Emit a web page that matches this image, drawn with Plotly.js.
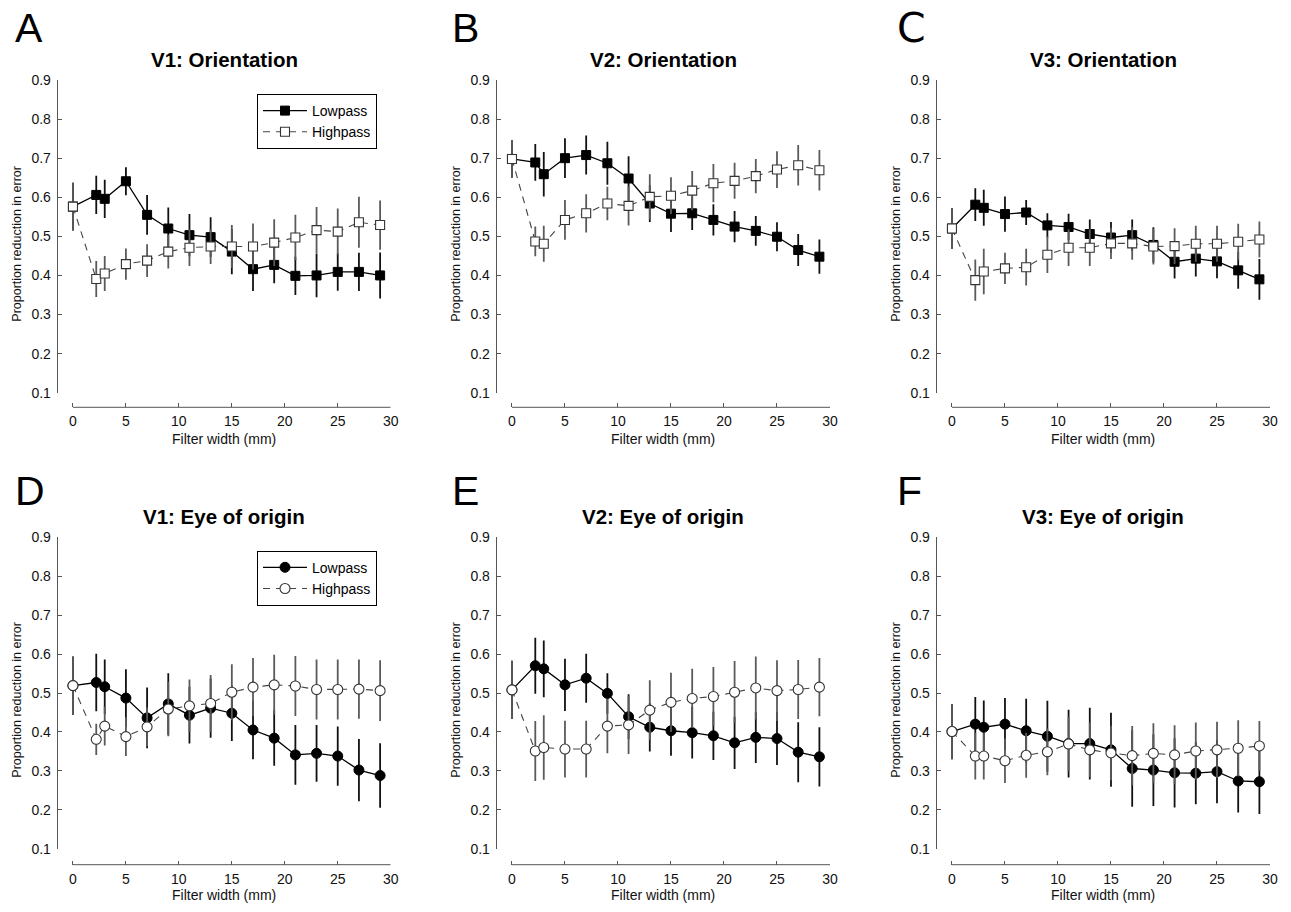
<!DOCTYPE html>
<html>
<head>
<meta charset="utf-8">
<script src="https://cdn.plot.ly/plotly-3.0.1.min.js"></script>
<style>html,body{margin:0;padding:0;background:#fff;}#chart{width:1291px;height:912px;}</style>
</head>
<body>
<div id="chart"></div>
<script>
// ---- data ----
const filterWidths = [0, 2.2, 3, 5, 7, 9, 11, 13, 15, 17, 19, 21, 23, 25, 27, 29];
const xTicks = [0, 5, 10, 15, 20, 25, 30];
const yTicks = [0.1, 0.2, 0.3, 0.4, 0.5, 0.6, 0.7, 0.8, 0.9];
const seriesNames = ['Lowpass', 'Highpass'];
const panelLetters = ['A', 'B', 'C', 'D', 'E', 'F'];
const panelTitles = ['V1: Orientation', 'V2: Orientation', 'V3: Orientation',
                     'V1: Eye of origin', 'V2: Eye of origin', 'V3: Eye of origin'];
const xTitle = 'Filter width (mm)';
const yTitle = 'Proportion reduction in error';

const v1OriLow     = [0.576,0.606,0.596,0.641,0.555,0.520,0.503,0.498,0.461,0.416,0.427,0.399,0.400,0.409,0.409,0.400];
const v1OriLowErr  = [0.061,0.049,0.049,0.036,0.051,0.054,0.054,0.051,0.058,0.056,0.047,0.049,0.056,0.048,0.049,0.059];
const v1OriHigh    = [0.576,0.391,0.405,0.429,0.438,0.461,0.471,0.474,0.474,0.474,0.484,0.497,0.516,0.512,0.536,0.529];
const v1OriHighErr = [0.061,0.046,0.045,0.040,0.042,0.043,0.047,0.045,0.055,0.059,0.060,0.058,0.059,0.059,0.065,0.063];

const v2OriLow     = [0.698,0.689,0.659,0.700,0.708,0.687,0.648,0.584,0.558,0.559,0.542,0.525,0.514,0.499,0.465,0.448];
const v2OriLowErr  = [0.048,0.047,0.057,0.051,0.050,0.055,0.057,0.047,0.047,0.043,0.040,0.040,0.038,0.037,0.041,0.044];
const v2OriHigh    = [0.698,0.487,0.481,0.542,0.559,0.584,0.578,0.601,0.604,0.617,0.636,0.642,0.654,0.671,0.682,0.669];
const v2OriHighErr = [0.048,0.038,0.046,0.051,0.049,0.043,0.050,0.058,0.047,0.050,0.049,0.046,0.044,0.047,0.052,0.052];

const v3OriLow     = [0.520,0.581,0.573,0.557,0.561,0.528,0.524,0.506,0.497,0.503,0.478,0.435,0.443,0.436,0.413,0.390];
const v3OriLowErr  = [0.052,0.042,0.046,0.045,0.032,0.031,0.034,0.037,0.040,0.040,0.045,0.043,0.046,0.043,0.047,0.052];
const v3OriHigh    = [0.520,0.388,0.410,0.418,0.421,0.453,0.471,0.471,0.482,0.482,0.474,0.475,0.481,0.481,0.486,0.492];
const v3OriHighErr = [0.052,0.053,0.058,0.040,0.047,0.047,0.047,0.047,0.040,0.042,0.046,0.046,0.046,0.046,0.046,0.046];

const v1EyeLow     = [0.519,0.527,0.516,0.487,0.436,0.472,0.443,0.461,0.448,0.405,0.384,0.341,0.345,0.338,0.302,0.288];
const v1EyeLowErr  = [0.075,0.074,0.070,0.074,0.078,0.079,0.073,0.076,0.071,0.075,0.071,0.077,0.073,0.076,0.080,0.083];
const v1EyeHigh    = [0.519,0.381,0.415,0.388,0.413,0.459,0.467,0.473,0.502,0.515,0.521,0.518,0.509,0.509,0.510,0.506];
const v1EyeHighErr = [0.075,0.040,0.050,0.050,0.050,0.070,0.068,0.073,0.072,0.075,0.077,0.077,0.077,0.077,0.076,0.078];

const v2EyeLow     = [0.508,0.570,0.562,0.521,0.538,0.499,0.439,0.412,0.403,0.398,0.390,0.372,0.386,0.383,0.348,0.336];
const v2EyeLowErr  = [0.075,0.072,0.073,0.067,0.063,0.052,0.058,0.062,0.064,0.066,0.062,0.067,0.066,0.068,0.077,0.076];
const v2EyeHigh    = [0.508,0.351,0.360,0.356,0.356,0.415,0.418,0.456,0.476,0.486,0.491,0.502,0.513,0.506,0.509,0.515];
const v2EyeHighErr = [0.075,0.077,0.083,0.073,0.073,0.070,0.075,0.077,0.076,0.076,0.076,0.080,0.081,0.078,0.076,0.075];

const v3EyeLow     = [0.401,0.420,0.412,0.420,0.403,0.389,0.370,0.370,0.354,0.306,0.302,0.295,0.294,0.298,0.274,0.272];
const v3EyeLowErr  = [0.071,0.070,0.069,0.067,0.082,0.091,0.087,0.092,0.095,0.098,0.092,0.089,0.080,0.081,0.081,0.083];
const v3EyeHigh    = [0.401,0.338,0.338,0.326,0.340,0.349,0.369,0.354,0.346,0.339,0.345,0.341,0.351,0.354,0.358,0.364];
const v3EyeHighErr = [0.071,0.060,0.060,0.057,0.058,0.060,0.070,0.070,0.070,0.076,0.077,0.076,0.073,0.072,0.072,0.064];

// ---- panel configuration ----
const panelData = [
  [v1OriLow, v1OriLowErr, v1OriHigh, v1OriHighErr],
  [v2OriLow, v2OriLowErr, v2OriHigh, v2OriHighErr],
  [v3OriLow, v3OriLowErr, v3OriHigh, v3OriHighErr],
  [v1EyeLow, v1EyeLowErr, v1EyeHigh, v1EyeHighErr],
  [v2EyeLow, v2EyeLowErr, v2EyeHigh, v2EyeHighErr],
  [v3EyeLow, v3EyeLowErr, v3EyeHigh, v3EyeHighErr]
];

const W = 1291, H = 912;
const colLeft  = [57.7, 496.7, 936.7];   // y-axis line (px)
const colRight = [390.7, 830, 1270];     // x = 30 (px)
const rowTop   = [80, 537.3];            // y = 0.9 (px)
const rowBot   = [392.7, 848.7];         // y = 0.1 (px)
const rowXAxis = [407.3, 864.7];         // offset x-axis line (px)
const rowTitle = [59, 516.7];
const rowLetter = [28, 491];
const rowYTitle = [244, 700];
const rowXTitle = [439, 895];
const letterX = [13, 450, 895];
const X_MIN = -1.44;

const font = 'Liberation Sans, Arial, Helvetica, sans-serif';
const axisGray = '#555';

const traces = [];
const layout = {
  width: W, height: H,
  margin: {l: 0, r: 0, t: 0, b: 0},
  paper_bgcolor: '#fff', plot_bgcolor: 'rgba(0,0,0,0)',
  font: {family: font, size: 13, color: '#000'},
  showlegend: true,
  annotations: [],
  shapes: []
};

for (let p = 0; p < 6; p++) {
  const row = Math.floor(p / 3), col = p % 3;
  const suf = p === 0 ? '' : String(p + 1);
  const xa = 'x' + suf, ya = 'y' + suf;
  const [low, lowErr, high, highErr] = panelData[p];
  const isEye = row === 1;
  const legendId = p === 0 ? 'legend' : (p === 3 ? 'legend2' : null);

  traces.push({
    type: 'scatter', mode: 'lines+markers', name: seriesNames[0],
    x: filterWidths, y: low, xaxis: xa, yaxis: ya,
    error_y: {type: 'data', array: lowErr, visible: true, color: '#111', thickness: 1.8, width: 0},
    line: {color: '#000', width: 1.3},
    marker: {symbol: isEye ? 'circle' : 'square', size: isEye ? 10 : 9, color: '#000', line: {color: '#000', width: 1}},
    showlegend: legendId !== null, legend: legendId || 'legend', cliponaxis: false
  });
  traces.push({
    type: 'scatter', mode: 'lines+markers', name: seriesNames[1],
    x: filterWidths, y: high, xaxis: xa, yaxis: ya,
    error_y: {type: 'data', array: highErr, visible: true, color: '#5a5a5a', thickness: 1.8, width: 0},
    line: {color: '#444', width: 1.1, dash: '7px,6px'},
    marker: {symbol: isEye ? 'circle' : 'square', size: isEye ? 10 : 9, color: '#fff', line: {color: '#333', width: 1.1}},
    showlegend: legendId !== null, legend: legendId || 'legend', cliponaxis: false
  });

  const xDom = [colLeft[col] / W, colRight[col] / W];
  const yDom = [1 - rowBot[row] / H, 1 - rowTop[row] / H];
  const xPos = 1 - rowXAxis[row] / H;

  layout['xaxis' + suf] = {
    domain: xDom, range: [X_MIN, 30], anchor: 'free', position: xPos,
    showline: false, showgrid: false, zeroline: false,
    ticks: 'inside', ticklen: 4, tickwidth: 1, tickcolor: axisGray,
    tickvals: xTicks, ticktext: xTicks.map(String), ticklabelstandoff: 4,
    tickfont: {family: font, size: 14, color: '#111'},
    fixedrange: true
  };
  layout['yaxis' + suf] = {
    domain: yDom, range: [0.1, 0.9], anchor: xa,
    showline: true, linecolor: axisGray, linewidth: 1, mirror: false,
    showgrid: false, zeroline: false,
    ticks: 'inside', ticklen: 4, tickwidth: 1, tickcolor: axisGray,
    tickvals: yTicks, ticktext: yTicks.map(v => v.toFixed(1)), ticklabelstandoff: 3,
    tickfont: {family: font, size: 14, color: '#111'},
    fixedrange: true
  };
  // offset x-axis line from 0 to 30
  layout.shapes.push({
    type: 'line', xref: xa, yref: 'paper', x0: 0, x1: 30, y0: xPos, y1: xPos,
    line: {color: axisGray, width: 1}
  });

  const cx = (colLeft[col] + colRight[col]) / 2 / W;
  layout.annotations.push({
    text: '<b>' + panelTitles[p] + '</b>', xref: 'paper', yref: 'paper',
    x: cx, y: 1 - rowTitle[row] / H, xanchor: 'center', yanchor: 'middle',
    showarrow: false, font: {family: font, size: 20.5, color: '#000'}
  });
  layout.annotations.push({
    text: panelLetters[p], xref: 'paper', yref: 'paper',
    x: letterX[col] / W, y: 1 - rowLetter[row] / H, xanchor: 'left', yanchor: 'middle',
    showarrow: false,
    font: {family: p === 2 ? 'DejaVu Sans, sans-serif' : font, size: 41, color: '#000'}
  });
  layout.annotations.push({
    text: yTitle, xref: 'paper', yref: 'paper', textangle: -90,
    x: (colLeft[col] - 41) / W, y: 1 - rowYTitle[row] / H, xanchor: 'center', yanchor: 'middle',
    showarrow: false, font: {family: font, size: 12.5, color: '#111'}
  });
  layout.annotations.push({
    text: xTitle, xref: 'paper', yref: 'paper',
    x: cx, y: 1 - rowXTitle[row] / H, xanchor: 'center', yanchor: 'middle',
    showarrow: false, font: {family: font, size: 14, color: '#111'}
  });
}

const legendStyle = {
  xanchor: 'left', yanchor: 'top',
  bgcolor: '#fff', bordercolor: '#000', borderwidth: 1,
  font: {family: font, size: 14, color: '#000'},
  tracegroupgap: 0, itemwidth: 44
};
layout.legend = Object.assign({x: 257 / W, y: 1 - 94 / H}, legendStyle);
layout.legend2 = Object.assign({x: 257 / W, y: 1 - 550.7 / H}, legendStyle);

Plotly.newPlot('chart', traces, layout, {staticPlot: true, displayModeBar: false});
</script>
</body>
</html>
